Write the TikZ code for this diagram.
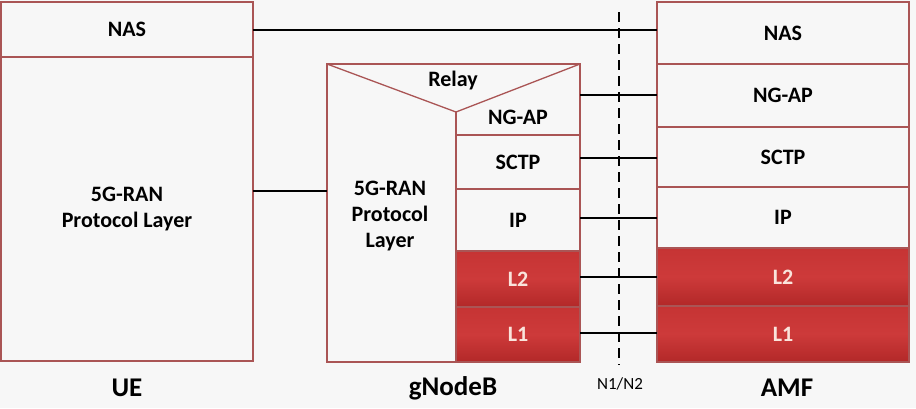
\documentclass[tikz,border=0pt]{standalone}
\usepackage{fontspec}
\setmainfont{Carlito}
\begin{document}
\begin{tikzpicture}[x=1pt,y=-1pt,
  bord/.style={draw=boxred,line width=1.3pt},
  cell/.style={bord,fill=cellbg,inner sep=0pt,outer sep=0pt,font=\fontsize{22}{26}\selectfont\bfseries,text=black,align=center},
  redcell/.style={cell,top color=redtop,bottom color=redbot,middle color=redfill,text=redtext},
  lbl/.style={font=\fontsize{22}{26}\selectfont\bfseries,align=center,inner sep=0pt},
  big/.style={font=\fontsize{27}{30}\selectfont\bfseries,inner sep=0pt},
  conn/.style={draw=black,line width=1.7pt}]
\definecolor{boxred}{RGB}{170,85,85}
\definecolor{cellbg}{RGB}{247,247,247}
\definecolor{redfill}{RGB}{205,58,58}
\definecolor{redtop}{RGB}{198,52,52}
\definecolor{redbot}{RGB}{178,40,40}
\definecolor{redtext}{RGB}{250,228,220}
\fill[white!97!black] (0,0) rectangle (916,408);
\useasboundingbox (0,0) rectangle (916,408);
% UE
\node[cell,minimum width=252pt,minimum height=55pt] (ueNAS) at (127,29.5) {NAS};
\node[cell,minimum width=252pt,minimum height=304pt] (ueRAN) at (127,209) {5G-RAN\\Protocol Layer};
\node[big] (ue) at (127,388) {UE};
% gNodeB
\node[bord,fill=cellbg,inner sep=0pt,outer sep=0pt,minimum width=253pt,minimum height=298pt] (gNB) at (453.5,213) {};
\draw[bord] (gNB.north west) -- (456,112) -- (gNB.north east);
\draw[bord] (456,112) -- (456,251);
\node[lbl] (relay) at (453,81) {Relay};
\node[lbl] (gRAN) at (390,216) {5G-RAN\\Protocol\\Layer};
\node[lbl] (gNGt) at (518,117) {NG-AP};
\node[cell,minimum width=124pt,minimum height=54pt] (gSCTP) at (518,162) {SCTP};
\node[cell,minimum width=124pt,minimum height=62pt] (gIP) at (518,220) {IP};
\node[redcell,minimum width=124pt,minimum height=56pt] (gL2) at (518,279) {L2};
\node[redcell,minimum width=124pt,minimum height=55pt] (gL1) at (518,334.5) {L1};
\node[big] (gnb) at (453,388) {gNodeB};
% AMF
\node[cell,minimum width=252pt,minimum height=62pt] (aNAS) at (783,33) {NAS};
\node[cell,minimum width=252pt,minimum height=63pt] (aNG) at (783,95.5) {NG-AP};
\node[cell,minimum width=252pt,minimum height=60pt] (aSCTP) at (783,157) {SCTP};
\node[cell,minimum width=252pt,minimum height=61pt] (aIP) at (783,217.5) {IP};
\node[redcell,minimum width=252pt,minimum height=58pt] (aL2) at (783,277) {L2};
\node[redcell,minimum width=252pt,minimum height=56pt] (aL1) at (783,334) {L1};
\node[big] (amf) at (787,388) {AMF};
% interface
\coordinate (dtop) at (619,12);
\coordinate (dbot) at (619,365);
\draw[black,line width=1.7pt,dash pattern=on 10pt off 6pt] (dtop) -- (dbot);
\node[font=\fontsize{17}{20}\selectfont,inner sep=0pt] (n12) at (620,384) {N1/N2};
% connectors
\coordinate (yNAS) at (0,30);
\coordinate (yRAN) at (0,191);
\coordinate (yNG) at (0,95);
\coordinate (ySC) at (0,158);
\coordinate (yIP) at (0,218);
\coordinate (yL2) at (0,277);
\coordinate (yL1) at (0,333);
\draw[conn] (ueNAS.east |- yNAS) -- (aNAS.west |- yNAS);
\draw[conn] (ueRAN.east |- yRAN) -- (gNB.west |- yRAN);
\draw[conn] (gNB.east |- yNG) -- (aNG.west |- yNG);
\draw[conn] (gSCTP.east |- ySC) -- (aSCTP.west |- ySC);
\draw[conn] (gIP.east |- yIP) -- (aIP.west |- yIP);
\draw[conn] (gL2.east |- yL2) -- (aL2.west |- yL2);
\draw[conn] (gL1.east |- yL1) -- (aL1.west |- yL1);
\end{tikzpicture}
\end{document}
